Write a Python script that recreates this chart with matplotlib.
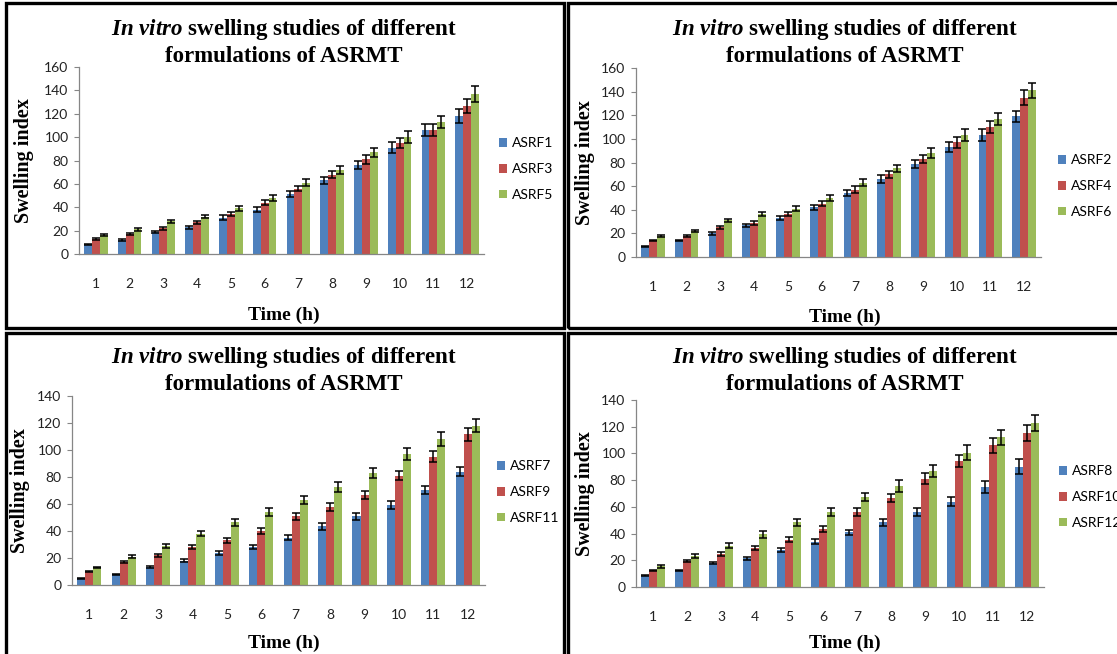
import matplotlib
matplotlib.use("Agg")
import matplotlib.pyplot as plt
import numpy as np
from matplotlib.patches import Rectangle

# ---- data ---------------------------------------------------------------
hours = [1, 2, 3, 4, 5, 6, 7, 8, 9, 10, 11, 12]

asrf1 = [8, 12, 19, 23, 31, 38, 51, 63, 76, 91, 106, 118]
asrf3 = [13, 17, 22, 27, 34, 44, 56, 68, 81, 95, 106, 127]
asrf5 = [16, 21, 28, 32, 39, 48, 61, 72, 87, 100, 113, 137]
err1 = [0.6, 0.6, 1.0, 1.2, 2.0, 2.0, 2.5, 3.0, 3.5, 4.5, 5.0, 6.0]
err3 = [0.6, 0.8, 1.2, 1.4, 1.7, 2.5, 2.5, 3.0, 4.0, 4.5, 5.0, 6.0]
err5 = [0.8, 1.0, 1.4, 1.6, 2.0, 2.5, 3.0, 3.5, 4.0, 5.0, 5.0, 7.0]

asrf2 = [9, 14, 20, 27, 33, 42, 54, 66, 79, 93, 103, 119]
asrf4 = [14, 18, 25, 29, 36, 45, 57, 70, 83, 97, 110, 135]
asrf6 = [18, 22, 31, 36, 41, 50, 63, 75, 88, 103, 117, 141]
err2 = [0.6, 0.7, 1.0, 1.2, 2.0, 2.0, 2.5, 3.0, 3.5, 4.5, 5.0, 5.0]
err4 = [0.6, 0.8, 1.2, 1.5, 1.7, 2.2, 3.0, 3.0, 3.5, 4.5, 5.0, 6.0]
err6 = [0.8, 1.0, 1.5, 1.7, 2.0, 2.5, 3.0, 3.0, 4.0, 5.0, 5.0, 6.0]

asrf7 = [5, 8, 13.5, 18, 23.5, 28.5, 35, 43.5, 51, 59.5, 70.5, 84]
asrf9 = [10, 17, 22, 28, 33, 40, 51, 58, 67, 81, 95, 111.5]
asrf11 = [13, 21, 29, 38, 46.5, 54, 63, 72.5, 83, 97, 108, 118]
err7 = [0.5, 0.5, 0.7, 1.0, 1.5, 1.5, 2.0, 2.5, 2.5, 3.0, 3.0, 3.5]
err9 = [0.5, 1.0, 1.0, 1.5, 2.0, 2.0, 2.5, 3.0, 3.0, 3.5, 4.0, 5.0]
err11 = [0.5, 1.0, 1.5, 2.0, 2.5, 3.0, 3.0, 3.5, 4.0, 4.5, 5.0, 5.0]

asrf8 = [8.5, 12.5, 18, 21.5, 27.5, 34, 41, 48.5, 56, 64, 75, 90]
asrf10 = [12.5, 19.5, 24.5, 29, 35.5, 43.5, 56, 66.5, 81, 94, 106, 115.5]
asrf12 = [15.5, 23.5, 31, 39.5, 48.5, 56, 67.5, 75.5, 87, 100.5, 112, 123]
err8 = [0.5, 0.5, 1.0, 1.0, 1.5, 2.0, 2.0, 2.5, 3.0, 3.5, 4.5, 5.5]
err10 = [0.5, 1.0, 1.5, 1.5, 2.0, 2.0, 3.0, 3.0, 4.0, 4.5, 5.5, 6.0]
err12 = [1.0, 1.5, 2.0, 2.5, 2.5, 3.0, 3.0, 4.5, 4.5, 5.5, 5.5, 6.0]

COLORS = ["#4F81BD", "#C0504D", "#9BBB59"]
W, H = 1117, 654

plt.rcParams["mathtext.fontset"] = "custom"
plt.rcParams["mathtext.it"] = "Liberation Serif:italic:bold"
plt.rcParams["mathtext.rm"] = "Liberation Serif:bold"
plt.rcParams["mathtext.bf"] = "Liberation Serif:bold"

fig = plt.figure(figsize=(W / 100, H / 100), dpi=100)


def fx(px):
    return px / W


def fy(py):
    return 1 - py / H


def panel(frame, axbox, ymax, names, vals, errs, title_xy, ylab_x, xlab_y, leg_xy):
    # frame and axbox are in pixels of the 1117x654 canvas
    x0, y0, x1, y1 = frame
    fig.add_artist(Rectangle((fx(x0), fy(y1)), fx(x1 - x0), (y1 - y0) / H,
                             transform=fig.transFigure, fill=False,
                             edgecolor="black", lw=2.4))
    l, r, top, bot = axbox
    ax = fig.add_axes([fx(l), fy(bot), fx(r - l), (bot - top) / H])
    x = np.arange(len(hours))
    bw = 0.234
    for k, (nm, v, e) in enumerate(zip(names, vals, errs)):
        ax.bar(x + (k - 1) * bw, v, bw, color=COLORS[k], label=nm,
               yerr=e, capsize=3,
               error_kw=dict(elinewidth=1.1, capthick=1.1, ecolor="black"))
    ax.set_xlim(-0.5, len(hours) - 0.5)
    ax.set_ylim(0, ymax)
    ax.set_yticks(np.arange(0, ymax + 1, 20))
    ax.set_xticks(x)
    ax.set_xticklabels(hours)
    for s in ("top", "right"):
        ax.spines[s].set_visible(False)
    for s in ("left", "bottom"):
        ax.spines[s].set_color("#868686")
        ax.spines[s].set_linewidth(0.9)
    ax.tick_params(axis="y", length=3.5, color="#868686", labelsize=10,
                   labelcolor="#222222", pad=4)
    ax.tick_params(axis="x", length=0, labelsize=10, labelcolor="#222222", pad=17)
    for t in ax.get_xticklabels() + ax.get_yticklabels():
        t.set_fontfamily("Lato")

    tx, ty = title_xy
    fig.text(fx(tx), fy(ty), r"$\mathit{In\ vitro}$ swelling studies of different",
             ha="center", va="center", fontsize=16.5, fontweight="bold",
             family="Liberation Serif")
    fig.text(fx(tx), fy(ty + 27), "formulations of ASRMT", ha="center", va="center",
             fontsize=16.5, fontweight="bold", family="Liberation Serif")
    fig.text(fx(ylab_x), fy((top + bot) / 2), "Swelling index", rotation=90,
             ha="center", va="center", fontsize=14.5, fontweight="bold",
             family="Liberation Serif")
    fig.text(fx(tx), fy(xlab_y), "Time (h)", ha="center", va="center",
             fontsize=14, fontweight="bold", family="Liberation Serif")
    lx, ly = leg_xy
    ax.legend(loc="center left", bbox_to_anchor=(fx(lx), fy(ly)),
              bbox_transform=fig.transFigure, frameon=False,
              handlelength=0.6, handleheight=0.6, handletextpad=0.3,
              labelspacing=1.0, borderaxespad=0, borderpad=0,
              prop={"family": "Lato", "size": 10})
    return ax


panel((6, 3, 564, 328), (79, 484, 67, 254), 160, ["ASRF1", "ASRF3", "ASRF5"],
      [asrf1, asrf3, asrf5], [err1, err3, err5], (284, 30), 24, 315, (499, 169))
panel((568, 3, 1125, 328), (636, 1041, 68, 257), 160, ["ASRF2", "ASRF4", "ASRF6"],
      [asrf2, asrf4, asrf6], [err2, err4, err6], (845, 30), 585, 317, (1058, 186))
panel((6, 333, 564, 662), (72, 485, 396, 585), 140, ["ASRF7", "ASRF9", "ASRF11"],
      [asrf7, asrf9, asrf11], [err7, err9, err11], (284, 358), 20, 643, (497, 492))
panel((568, 333, 1125, 662), (636, 1044, 400, 587), 140, ["ASRF8", "ASRF10", "ASRF12"],
      [asrf8, asrf10, asrf12], [err8, err10, err12], (845, 358), 585, 643, (1059, 497))

fig.savefig("out.png", dpi=100)
